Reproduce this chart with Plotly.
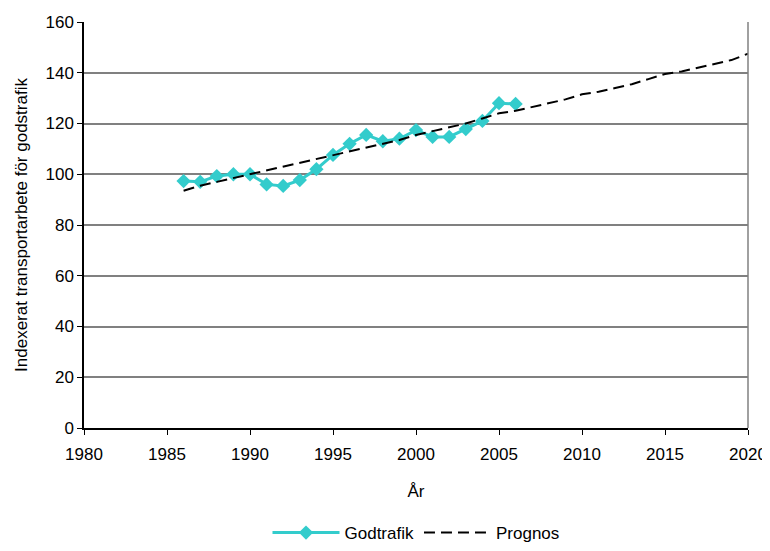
import plotly.graph_objects as go

years_god = list(range(1986, 2007))
godtrafik = [97.3, 97.0, 99.3, 100.0, 100.0, 96.0, 95.4, 97.7, 102.0, 107.6, 112.0,
             115.5, 113.0, 114.0, 117.4, 114.7, 114.7, 117.8, 121.0, 128.0, 127.7]

years_prog = list(range(1986, 2021))
prognos = [93.5, 95.5, 97.0, 98.5, 100.0, 101.5, 103.0, 104.5, 105.8, 107.5, 109.0,
           110.5, 112.0, 113.5, 115.5, 117.0, 118.5, 120.0, 122.0, 124.0, 125.0,
           126.5, 128.0, 129.5, 131.5, 132.5, 134.0, 135.5, 137.5, 139.5, 140.5,
           142.0, 143.5, 145.0, 147.5]

x_ticks = [1980, 1985, 1990, 1995, 2000, 2005, 2010, 2015, 2020]
y_ticks = [0, 20, 40, 60, 80, 100, 120, 140, 160]

font = "Liberation Sans, Arial, sans-serif"

fig = go.Figure()
fig.add_trace(go.Scatter(
    x=years_god, y=godtrafik, name="Godtrafik", mode="lines+markers",
    line=dict(color="#33CCCC", width=3),
    marker=dict(symbol="diamond", size=11, color="#33CCCC"),
))
fig.add_trace(go.Scatter(
    x=years_prog, y=prognos, name="Prognos", mode="lines",
    line=dict(color="black", width=2, dash="11px,6px"),
))

# right border of plot area
fig.add_shape(type="line", xref="paper", yref="paper", x0=1, x1=1, y0=0, y1=1,
              line=dict(color="#808080", width=1.5))

fig.update_layout(
    width=762, height=543,
    margin=dict(l=76, r=22, t=14, b=123),
    paper_bgcolor="white", plot_bgcolor="white",
    font=dict(family=font, size=17, color="black"),
    showlegend=True,
    legend=dict(orientation="h", x=0.5, xanchor="center",
                yref="container", y=0.0, yanchor="bottom",
                itemwidth=67, font=dict(size=17), tracegroupgap=0),
)
fig.update_xaxes(
    range=[1980, 2020], tickvals=x_ticks, ticks="outside", ticklen=5,
    ticklabelstandoff=5,
    tickcolor="black", showline=True, linecolor="black", linewidth=1.5,
    showgrid=False, zeroline=False, automargin=False,
    title=dict(text="År", font=dict(size=17), standoff=22),
)
fig.update_yaxes(
    range=[0, 160], tickvals=y_ticks, ticks="outside", ticklen=5,
    tickcolor="black", showline=True, linecolor="black", linewidth=1.5,
    showgrid=True, gridcolor="#808080", gridwidth=1.5, zeroline=False, automargin=False,
    title=dict(text="Indexerat transportarbete för godstrafik", font=dict(size=17), standoff=14),
)

fig.write_html("out.html")
